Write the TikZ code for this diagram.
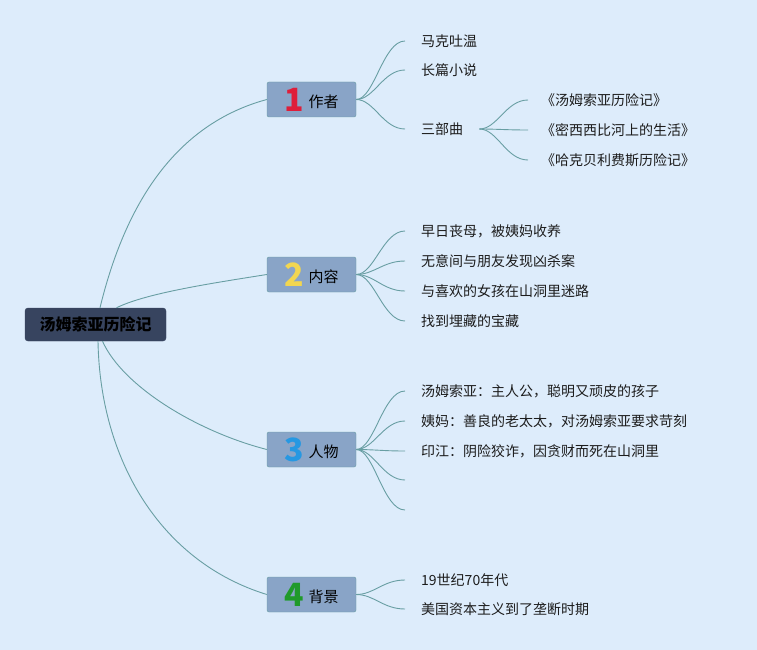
\documentclass[tikz,border=0pt]{standalone}
\usepackage{fontspec}
\setmainfont{Noto Sans CJK SC}
\usetikzlibrary{calc}
\definecolor{bgblue}{RGB}{221,236,251}
\definecolor{rootfill}{RGB}{55,68,95}
\definecolor{topicfill}{RGB}{137,164,199}
\definecolor{linkcol}{RGB}{104,158,163}
\definecolor{leaftext}{RGB}{28,28,28}
\definecolor{numred}{RGB}{222,30,58}
\definecolor{numyellow}{RGB}{242,214,80}
\definecolor{numblue}{RGB}{38,152,226}
\definecolor{numgreen}{RGB}{32,154,42}
\newcommand{\topicnum}[2]{\raisebox{-4pt}{\textcolor{#1}{\fontsize{32}{32}\selectfont\bfseries #2}}\hspace{5pt}}

\begin{document}
\begin{tikzpicture}[x=1pt,y=-1pt]
\tikzstyle{root} = [draw=rootfill, fill=rootfill, rounded corners=3pt, minimum width=141pt, minimum height=33pt, inner sep=0pt, font=\bfseries\fontsize{16}{16}\selectfont]
\tikzstyle{topic} = [draw=linkcol, fill=topicfill, rounded corners=2pt, minimum width=89pt, minimum height=35pt, inner sep=0pt, font=\fontsize{15}{15}\selectfont]
\tikzstyle{leaf} = [anchor=west, inner ysep=0pt, inner xsep=16pt, text=leaftext, font=\fontsize{14}{14}\selectfont]
\tikzstyle{subleaf} = [leaf, inner xsep=13pt]
\tikzstyle{link} = [draw=linkcol, line width=0.9pt]

\fill[bgblue] (0,0) rectangle (757,650);
\useasboundingbox (0,0) rectangle (757,650);

\node[root](r) at (95.5,324.5){汤姆索亚历险记};

\node[topic](t1) at (311.5,99.5){\topicnum{numred}{1}作者};
\node[topic](t2) at (311.5,274.5){\topicnum{numyellow}{2}内容};
\node[topic](t3) at (311.5,449.5){\topicnum{numblue}{3}人物};
\node[topic](t4) at (311.5,594.5){\topicnum{numgreen}{4}背景};

% root -> topics
\draw[link] ($(r.north)+(4.5,0)$) .. controls +(25,-103) and +(-92,25) .. (t1.west);
\draw[link] ($(r.north)+(21,0)$) .. controls +(30,-15) and +(-50,8) .. (t2.west);
\draw[link] ($(r.south)+(7,0)$) .. controls +(20,45) and +(-70,-18) .. (t3.west);
\draw[link] ($(r.south)+(2.5,0)$) .. controls +(2,118) and +(-107,-33) .. (t4.west);

% 作者
\node[leaf](a1) at (405,41){马克吐温};
\node[leaf](a2) at (405,70){长篇小说};
\node[leaf](a3) at (405,129){三部曲};
\node[subleaf](s1) at (528,100){《汤姆索亚历险记》};
\node[subleaf](s2) at (528,130){《密西西比河上的生活》};
\node[subleaf](s3) at (528,160){《哈克贝利费斯历险记》};

% 内容
\node[leaf](b1) at (405,231){早日丧母，被姨妈收养};
\node[leaf](b2) at (405,261){无意间与朋友发现凶杀案};
\node[leaf](b3) at (405,291){与喜欢的女孩在山洞里迷路};
\node[leaf](b4) at (405,321){找到埋藏的宝藏};

% 人物
\node[leaf](c1) at (405,391){汤姆索亚：主人公，聪明又顽皮的孩子};
\node[leaf](c2) at (405,421){姨妈：善良的老太太，对汤姆索亚要求苛刻};
\node[leaf](c3) at (405,451){印江：阴险狡诈，因贪财而死在山洞里};
\coordinate(c4) at (405,480);
\coordinate(c5) at (405,510);

% 背景
\node[leaf](d1) at (405,580){19世纪70年代};
\node[leaf](d2) at (405,609){美国资本主义到了垄断时期};

\foreach \l in {a1,a2,a3}
    \draw[link] (t1.east) .. controls +(18,0) and +(-22,0) .. (\l.west);
\foreach \l in {s1,s2,s3}
    \draw[link] (a3.east) .. controls +(18,0) and +(-22,0) .. (\l.west);
\foreach \l in {b1,b2,b3,b4}
    \draw[link] (t2.east) .. controls +(18,0) and +(-22,0) .. (\l.west);
\foreach \l in {c1,c2,c3}
    \draw[link] (t3.east) .. controls +(18,0) and +(-22,0) .. (\l.west);
\foreach \l in {c4,c5}
    \draw[link] (t3.east) .. controls +(18,0) and +(-22,0) .. (\l);
\foreach \l in {d1,d2}
    \draw[link] (t4.east) .. controls +(18,0) and +(-22,0) .. (\l.west);
\end{tikzpicture}
\end{document}
